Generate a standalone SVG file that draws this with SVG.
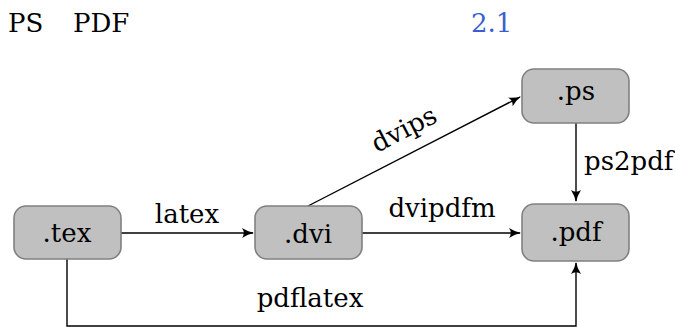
<svg xmlns="http://www.w3.org/2000/svg" width="675" height="327" viewBox="0 0 675 327" font-family="DejaVu Serif, Liberation Serif, serif" font-size="26">
<style>
.node rect{fill:#c0c0c0;stroke:#808080;stroke-width:1.6}
.node text{text-anchor:middle}
.edge{fill:none;stroke:#000;stroke-width:1.4}
.lbl{text-anchor:middle}
</style>
<defs>
<marker id="ah" viewBox="0 0 12 12" refX="11" refY="6" markerWidth="12" markerHeight="12" markerUnits="userSpaceOnUse" orient="auto">
<path d="M0,1 Q6,4.8 12,6 Q6,7.2 0,11 Q3.5,6 0,1 Z" fill="#000"/>
</marker>
</defs>
<rect width="675" height="327" fill="#fff"/>
<g id="header">
<text x="8" y="32">PS</text>
<text x="73" y="32">PDF</text>
<text x="471" y="32" fill="#3a5fcd">2.1</text>
</g>
<g id="connectors">
<path class="edge" d="M121,233 L253,233" marker-end="url(#ah)"/>
<path class="edge" d="M362,233 L520,233" marker-end="url(#ah)"/>
<path class="edge" d="M308,206 L520,97" marker-end="url(#ah)"/>
<path class="edge" d="M576,123 L576,201" marker-end="url(#ah)"/>
<path class="edge" d="M67,259 L67,326 L576,326 L576,263" marker-end="url(#ah)"/>
<text class="lbl" x="187" y="223">latex</text>
<text class="lbl" x="442" y="217">dvipdfm</text>
<text x="584" y="170">ps2pdf</text>
<text class="lbl" x="310" y="307">pdflatex</text>
<text class="lbl" transform="translate(408,137) rotate(-27.2)">dvips</text>
</g>
<g id="tex" class="node">
<rect x="14" y="206" width="107" height="53" rx="12"/>
<text x="67" y="242">.tex</text>
</g>
<g id="dvi" class="node">
<rect x="255" y="206" width="107" height="53" rx="12"/>
<text x="308" y="243">.dvi</text>
</g>
<g id="ps" class="node">
<rect x="522" y="69" width="107" height="54" rx="12"/>
<text x="576" y="100">.ps</text>
</g>
<g id="pdf" class="node">
<rect x="522" y="204" width="107" height="57" rx="12"/>
<text x="576" y="241">.pdf</text>
</g>
</svg>
